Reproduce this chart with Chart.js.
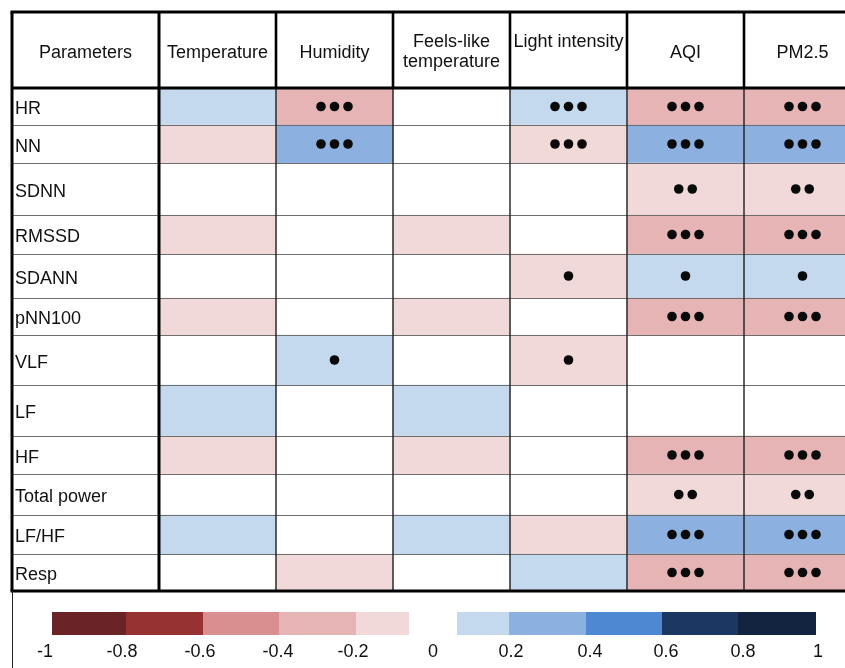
<!DOCTYPE html>
<html>
<head>
<meta charset="utf-8">
<script src="https://cdn.jsdelivr.net/npm/chart.js@4.4.1/dist/chart.umd.min.js"></script>
<style>
  html, body { margin: 0; padding: 0; background: #fff; overflow: hidden; }
  #wrap { width: 845px; height: 668px; overflow: hidden; }
</style>
</head>
<body>
<div id="wrap"><canvas id="heat" width="870" height="668"></canvas></div>
<script>
// rows and columns of the table
const parameters = ['HR', 'NN', 'SDNN', 'RMSSD', 'SDANN', 'pNN100', 'VLF', 'LF', 'HF', 'Total power', 'LF/HF', 'Resp'];
const factors = ['Temperature', 'Humidity', 'Feels-like temperature', 'Light intensity', 'AQI', 'PM2.5'];

// correlation per factor, read as the middle of the colour band (null = no colour)
const temperature    = [0.1, -0.1, null, -0.1, null, -0.1, null, 0.1, -0.1, null, 0.1, null];
const humidity       = [-0.3, 0.3, null, null, null, null, 0.1, null, null, null, null, -0.1];
const feelsLike      = [null, null, null, -0.1, null, -0.1, null, 0.1, -0.1, null, 0.1, null];
const lightIntensity = [0.1, -0.1, null, null, -0.1, null, -0.1, null, null, null, -0.1, 0.1];
const aqi            = [-0.3, 0.3, -0.1, -0.3, 0.1, -0.3, null, null, -0.3, -0.1, 0.3, -0.3];
const pm25           = [-0.3, 0.3, -0.1, -0.3, 0.1, -0.3, null, null, -0.3, -0.1, 0.3, -0.3];

// significance dots per cell
const temperatureSig    = [0, 0, 0, 0, 0, 0, 0, 0, 0, 0, 0, 0];
const humiditySig       = [3, 3, 0, 0, 0, 0, 1, 0, 0, 0, 0, 0];
const feelsLikeSig      = [0, 0, 0, 0, 0, 0, 0, 0, 0, 0, 0, 0];
const lightIntensitySig = [3, 3, 0, 0, 1, 0, 1, 0, 0, 0, 0, 0];
const aqiSig            = [3, 3, 2, 3, 1, 3, 0, 0, 3, 2, 3, 3];
const pm25Sig           = [3, 3, 2, 3, 1, 3, 0, 0, 3, 2, 3, 3];

// colour key
const legendTicks = [-1, -0.8, -0.6, -0.4, -0.2, 0, 0.2, 0.4, 0.6, 0.8, 1];
const legendColors = ['#6a2428', '#973233', '#d98e8f', '#e7b4b5', '#f2d9d9',
                      '#c4d8ee', '#8cb0e0', '#4e88d3', '#1b3762', '#132441'];

// layout only
const rowHeights = [37, 38, 52, 39, 44, 37, 50, 51, 38, 41, 39, 37];
const headerLines = [['Temperature'], ['Humidity'], ['Feels-like', 'temperature'], ['Light intensity'], ['AQI'], ['PM2.5']];
const headerY = [[53], [53], [42, 62], [42], [53], [53]];
const legendEdges = [[52, 126, 203, 279, 356, 409], [457, 509, 586, 662, 738, 816]];
const legendLabelX = [45, 122, 200, 278, 353, 433, 511, 590, 666, 743, 818];
const FONT = '18px "Liberation Sans", Arial, sans-serif';

const columns = [temperature, humidity, feelsLike, lightIntensity, aqi, pm25];
const sigs = [temperatureSig, humiditySig, feelsLikeSig, lightIntensitySig, aqiSig, pm25Sig];

const rowEdges = [0];
rowHeights.forEach(h => rowEdges.push(rowEdges[rowEdges.length - 1] + h));
const rowCenters = rowHeights.map((h, i) => rowEdges[i] + h / 2);

function colorFor(v) {
  if (v === null) return 'rgba(0,0,0,0)';
  const i = Math.max(0, Math.min(9, Math.floor((v + 1) / 0.2)));
  return legendColors[i];
}

const datasets = columns.map((vals, c) => ({
  label: factors[c],
  data: parameters.map((p, r) => ({ x: factors[c], y: [rowEdges[r], rowEdges[r + 1]] })),
  backgroundColor: vals.map(colorFor),
  borderWidth: 0,
  barPercentage: 1,
  categoryPercentage: 1,
  grouped: false,
}));

const tablePlugin = {
  id: 'table',
  afterDatasetsDraw(chart) {
    const ctx = chart.ctx;
    ctx.save();
    ctx.fillStyle = '#0a0a0a';
    sigs.forEach((sig, c) => {
      const meta = chart.getDatasetMeta(c);
      sig.forEach((n, r) => {
        if (!n) return;
        const bar = meta.data[r];
        const cy = (bar.y + bar.base) / 2;
        for (let k = 0; k < n; k++) {
          const cx = bar.x + (k - (n - 1) / 2) * 13.5;
          ctx.beginPath();
          ctx.arc(cx, cy, 4.8, 0, Math.PI * 2);
          ctx.fill();
        }
      });
    });
    ctx.restore();
  },
  afterDraw(chart) {
    const ctx = chart.ctx;
    const area = chart.chartArea;
    const ys = chart.scales.y;
    const xs = chart.scales.x;
    const colW = area.width / factors.length;
    const line = (x1, y1, x2, y2, w, color) => {
      ctx.beginPath();
      ctx.lineWidth = w;
      ctx.strokeStyle = color;
      ctx.moveTo(x1, y1);
      ctx.lineTo(x2, y2);
      ctx.stroke();
    };
    const top = 12, left = 12, right = chart.width;
    ctx.save();
    // row lines
    for (let r = 1; r < rowHeights.length; r++) {
      const y = Math.round(ys.getPixelForValue(rowEdges[r])) + 0.5;
      line(left, y, right, y, 1, '#6e6e6e');
    }
    // column lines
    for (let c = 1; c < factors.length; c++) {
      const x = area.left + c * colW;
      line(x, area.top, x, area.bottom, 1.4, '#1e1e1e');
      line(x, top, x, area.top, 2.6, '#000');
    }
    line(area.left, top, area.left, area.bottom, 3, '#000');
    // frame
    line(left - 1.5, top, right, top, 3, '#000');
    line(left, top, left, area.bottom, 3, '#000');
    line(left, area.top, right, area.top, 3, '#000');
    line(left - 1.5, area.bottom, right, area.bottom, 3, '#000');
    line(left + 0.5, area.bottom, left + 0.5, chart.height, 1, '#222');

    // headers
    ctx.font = FONT;
    ctx.fillStyle = '#111';
    ctx.textAlign = 'center';
    ctx.textBaseline = 'middle';
    ctx.fillText('Parameters', (left + area.left) / 2, 53);
    headerLines.forEach((lines, c) => {
      const cx = xs.getPixelForValue(c);
      lines.forEach((t, k) => ctx.fillText(t, cx, headerY[c][k]));
    });

    // colour key
    let ci = 0;
    legendEdges.forEach(edges => {
      for (let i = 0; i < edges.length - 1; i++) {
        ctx.fillStyle = legendColors[ci++];
        ctx.fillRect(edges[i], 612, edges[i + 1] - edges[i], 23);
      }
    });
    ctx.fillStyle = '#111';
    legendTicks.forEach((v, i) => ctx.fillText(String(v), legendLabelX[i], 652));
    ctx.restore();
  }
};

new Chart(document.getElementById('heat'), {
  type: 'bar',
  data: { labels: factors, datasets },
  options: {
    responsive: false,
    animation: false,
    devicePixelRatio: 1,
    layout: { padding: { top: 88, bottom: 77, left: 15, right: 9 } },
    plugins: { legend: { display: false }, tooltip: { enabled: false } },
    scales: {
      x: { type: 'category', display: false, offset: true },
      y: {
        type: 'linear',
        reverse: true,
        min: 0,
        max: rowEdges[rowEdges.length - 1],
        grid: { display: false },
        border: { display: false },
        afterBuildTicks: s => { s.ticks = rowCenters.map(v => ({ value: v })); },
        afterFit: s => { s.width = 144; },
        ticks: {
          autoSkip: false,
          crossAlign: 'far',
          labelOffset: 3,
          color: '#111',
          font: { family: '"Liberation Sans", Arial, sans-serif', size: 18 },
          callback: (v, i) => parameters[i],
        },
      },
    },
  },
  plugins: [tablePlugin],
});
</script>
</body>
</html>
